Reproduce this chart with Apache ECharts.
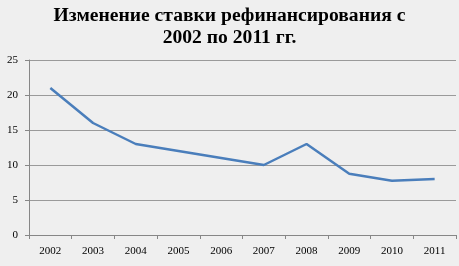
<!DOCTYPE html>
<html><head><meta charset="utf-8">
<script src="https://cdn.jsdelivr.net/npm/echarts@6/dist/echarts.min.js"></script>
<style>html,body{margin:0;padding:0;background:#efefef;}#c{width:459px;height:266px;}</style>
</head><body><div id="c"></div>
<script>
const years = ['2002','2003','2004','2005','2006','2007','2008','2009','2010','2011'];
const rates = [21, 16, 13, 12, 11, 10, 13, 8.75, 7.75, 8];
const yTicks = {min: 0, max: 25, interval: 5};
const titleText = 'Изменение ставки рефинансирования с\n2002 по 2011 гг.';

const chart = echarts.init(document.getElementById('c'), null, {renderer: 'canvas'});
chart.setOption({
  backgroundColor: '#efefef',
  animation: false,
  title: {
    text: titleText, left: 'center', top: 0,
    textStyle: {fontFamily: 'Liberation Serif', fontWeight: 'bold', fontSize: 19.6, lineHeight: 22, color: '#000'}
  },
  grid: {left: 29, right: 3, top: 60, bottom: 31, containLabel: false},
  xAxis: {
    type: 'category', data: years, boundaryGap: true,
    axisLine: {lineStyle: {color: '#868686', width: 1}},
    axisTick: {show: true, length: 4, alignWithLabel: false, lineStyle: {color: '#868686'}},
    axisLabel: {fontFamily: 'Liberation Serif', fontSize: 11, color: '#000', margin: 11}
  },
  yAxis: {
    type: 'value', min: yTicks.min, max: yTicks.max, interval: yTicks.interval,
    axisLine: {show: true, lineStyle: {color: '#868686', width: 1}},
    axisTick: {show: true, length: 4, lineStyle: {color: '#868686'}},
    axisLabel: {fontFamily: 'Liberation Serif', fontSize: 11, color: '#000', margin: 11},
    splitLine: {lineStyle: {color: '#9a9a9a', width: 1}}
  },
  series: [{
    type: 'line', data: rates, symbol: 'none', smooth: false,
    lineStyle: {color: '#4a7ebb', width: 2.5}
  }]
});
</script></body></html>
